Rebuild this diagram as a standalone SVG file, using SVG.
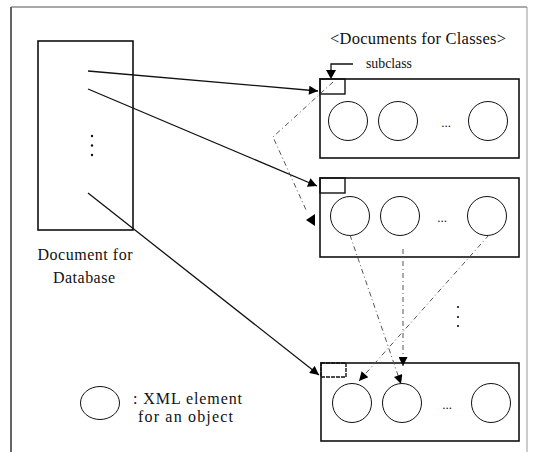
<svg xmlns="http://www.w3.org/2000/svg" width="536" height="452" viewBox="0 0 536 452">
<defs>
<marker id="ah" viewBox="0 0 10 10" refX="10" refY="5" markerWidth="11" markerHeight="9" markerUnits="userSpaceOnUse" orient="auto"><path d="M0,0 L10,5 L0,10 z" fill="#000"/></marker>
</defs>
<style>
.t{font-family:"Liberation Serif","Times New Roman",serif;fill:#111}
.box{fill:none;stroke:#111;stroke-width:1.6}
.sub{fill:none;stroke:#111;stroke-width:1.4}
.c{fill:none;stroke:#111;stroke-width:1}
.ln{fill:none;stroke:#111;stroke-width:1.3}
.dd{fill:none;stroke:#555;stroke-width:1;stroke-dasharray:5,3,1,3}
</style>
<rect width="536" height="452" fill="#fff"/>
<g id="frame">
<line x1="11" y1="7" x2="11" y2="452" stroke="#111" stroke-width="1.3"/>
<line x1="11" y1="7" x2="527" y2="7" stroke="#555" stroke-width="1"/>
<line x1="527" y1="7" x2="527" y2="452" stroke="#999" stroke-width="1"/>
</g>
<g id="db">
<rect x="38" y="41" width="95" height="189" class="box"/>
<circle cx="92" cy="136" r="1.2" fill="#111"/>
<circle cx="92" cy="145.5" r="1.2" fill="#111"/>
<circle cx="92" cy="155" r="1.2" fill="#111"/>
<text class="t" x="85" y="260" font-size="16" text-anchor="middle" textLength="95" lengthAdjust="spacing">Document for</text>
<text class="t" x="84" y="283" font-size="16" text-anchor="middle" textLength="62" lengthAdjust="spacing">Database</text>
</g>
<g id="title">
<text class="t" x="418" y="44" font-size="16.5" text-anchor="middle" textLength="176" lengthAdjust="spacing">&lt;Documents for Classes&gt;</text>
</g>
<g id="class1">
<rect x="320" y="79" width="199" height="79" class="box"/>
<rect x="320" y="79" width="25" height="15" class="sub"/>
<circle cx="348" cy="121" r="19.5" class="c"/>
<circle cx="398" cy="121" r="19.5" class="c"/>
<circle cx="488" cy="121" r="19.5" class="c"/>
<text class="t" x="446" y="127" font-size="13" text-anchor="middle">...</text>
<polyline points="353,64 331,64 331,76" class="ln" fill="none"/>
<path d="M326,70 L336,70 L331,79 z" fill="#000"/>
<text class="t" x="366" y="68" font-size="14.5" textLength="46" lengthAdjust="spacingAndGlyphs">subclass</text>
</g>
<g id="class2">
<rect x="320" y="178" width="199" height="79" class="box"/>
<rect x="320" y="178" width="25" height="15" class="sub"/>
<circle cx="350" cy="216" r="19.5" class="c"/>
<circle cx="400" cy="216" r="19.5" class="c"/>
<circle cx="487" cy="216" r="19.5" class="c"/>
<text class="t" x="442" y="222" font-size="13" text-anchor="middle">...</text>
</g>
<g id="class3">
<rect x="321" y="363" width="198" height="78" class="box"/>
<rect x="321" y="363" width="25" height="14" class="sub" stroke-dasharray="4,1"/>
<circle cx="352" cy="403" r="19.5" class="c"/>
<circle cx="402" cy="403" r="19.5" class="c"/>
<circle cx="491" cy="403" r="19.5" class="c"/>
<text class="t" x="447" y="409" font-size="13" text-anchor="middle">...</text>
</g>
<g id="vdots">
<circle cx="458" cy="307" r="1.1" fill="#111"/>
<circle cx="458" cy="317" r="1.1" fill="#111"/>
<circle cx="458" cy="326" r="1.1" fill="#111"/>
</g>
<g id="legend">
<ellipse cx="100" cy="403" rx="19.5" ry="16.5" class="c"/>
<text class="t" x="133" y="404" font-size="16" textLength="109" lengthAdjust="spacing">: XML element</text>
<text class="t" x="138" y="422" font-size="16" textLength="95" lengthAdjust="spacing">for an object</text>
</g>
<g id="connectors">
<line x1="88" y1="71" x2="318" y2="91" class="ln" marker-end="url(#ah)"/>
<line x1="88" y1="89" x2="317" y2="186" class="ln" marker-end="url(#ah)"/>
<line x1="88" y1="193" x2="319" y2="375" class="ln" marker-end="url(#ah)"/>
<polyline points="333,82 273,137 307,212" class="dd"/>
<path d="M306,220 L315,214 L315,226 z" fill="#000"/>
<line x1="350" y1="235" x2="401" y2="384" class="dd" marker-end="url(#ah)"/>
<line x1="489" y1="235" x2="359" y2="381" class="dd" marker-end="url(#ah)"/>
<line x1="403" y1="249" x2="403" y2="366" class="dd" marker-end="url(#ah)"/>
</g>
</svg>
